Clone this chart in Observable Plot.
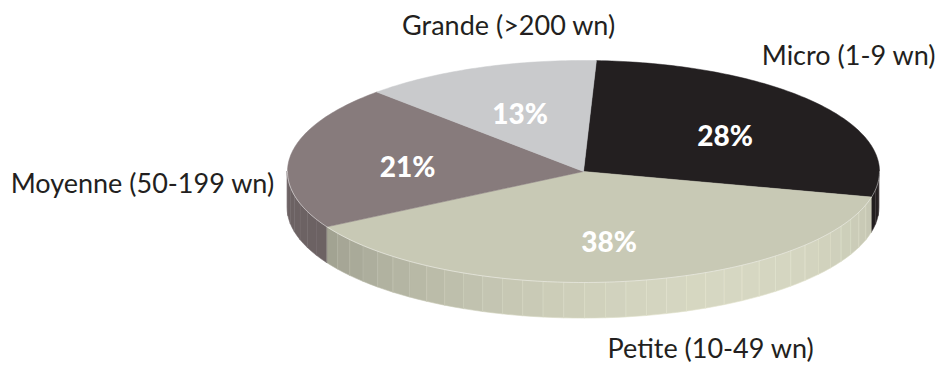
<!DOCTYPE html>
<html>
<head>
<meta charset="utf-8">
<script src="https://cdn.jsdelivr.net/npm/d3@7"></script>
<script src="https://cdn.jsdelivr.net/npm/@observablehq/plot@0.6"></script>
<style>
  html, body { margin: 0; padding: 0; background: #ffffff; }
  #chart svg { display: block; }
</style>
</head>
<body>
<div id="chart"></div>
<script>
// Répartition des entreprises par taille (nombre de travailleurs)
const categories = ["Micro (1-9 wn)", "Petite (10-49 wn)", "Moyenne (50-199 wn)", "Grande (>200 wn)"];
const shares = [28, 38, 21, 13];
const shareLabels = ["28%", "38%", "21%", "13%"];
const topColors = ["#231f20", "#c8c9b5", "#877b7c", "#c9cacc"];

// Pie geometry in unit-ellipse space: X = sin(angle), Y = cos(angle), angle clockwise from the top
const deg = Math.PI / 180;
const startAngle = 2.5 * deg;
const thickness = 0.325;           // side wall height, in units of the vertical radius
const arcs = d3.pie().sort(null).startAngle(startAngle).endAngle(startAngle + 2 * Math.PI)(shares);

// Top face of every slice: centre -> arc -> centre
const faces = [];
arcs.forEach((a, i) => {
  const n = Math.max(2, Math.ceil((a.endAngle - a.startAngle) / deg));
  faces.push({slice: i, X: 0, Y: 0});
  for (let k = 0; k <= n; ++k) {
    const t = a.startAngle + (a.endAngle - a.startAngle) * k / n;
    faces.push({slice: i, X: Math.sin(t), Y: Math.cos(t)});
  }
  faces.push({slice: i, X: 0, Y: 0});
});

// Visible side wall (front half), split into facets with a soft light from the front right
const shade = (t) => 0.8 + 0.27 * Math.max(0, Math.cos(t - 150 * deg));
const tint = (color, k) => {
  const c = d3.rgb(color);
  return d3.rgb(Math.min(255, c.r * k), Math.min(255, c.g * k), Math.min(255, c.b * k)).formatHex();
};
const walls = [];
const facet = 4 * deg;
let seg = 0;
arcs.forEach((a, i) => {
  const lo = Math.max(a.startAngle, 90 * deg);
  const hi = Math.min(a.endAngle, 270 * deg);
  if (hi <= lo) return;
  const n = Math.max(1, Math.round((hi - lo) / facet));
  for (let k = 0; k < n; ++k) {
    const t0 = lo + (hi - lo) * k / n;
    const t1 = lo + (hi - lo) * (k + 1) / n;
    const tm = (t0 + t1) / 2;
    const fill = tint(topColors[i], shade(tm));
    const edge = tint(topColors[i], shade(tm) + (i === 0 ? 0.9 : 0.06));
    for (const t of [t0, tm, t1]) {
      walls.push({seg, fill, edge, X: Math.sin(t), Ytop: Math.cos(t), Ybot: Math.cos(t) - thickness});
    }
    seg++;
  }
});

// Light rim along the front edge of the top face
const rim = d3.range(90, 270.5, 1).map((d) => ({X: Math.sin(d * deg), Y: Math.cos(d * deg)}));

// Percentage labels at the middle of each slice
const inner = arcs.map((a, i) => {
  const t = (a.startAngle + a.endAngle) / 2;
  return {label: shareLabels[i], X: 0.6 * Math.sin(t), Y: 0.6 * Math.cos(t) - 0.05};
});

// Category labels around the pie
const calloutPlacement = [
  {X: 1.189, Y: 1.04, anchor: "end"},     // Micro
  {X: 0.081, Y: -1.60, anchor: "start"},  // Petite
  {X: -1.045, Y: -0.12, anchor: "end"},   // Moyenne
  {X: -0.253, Y: 1.31, anchor: "middle"}  // Grande
];
const outer = categories.map((name, i) => ({name, ...calloutPlacement[i]}));

const font = "Lato, 'Noto Sans', sans-serif";
const outerText = (anchor) =>
  Plot.text(outer.filter((d) => d.anchor === anchor), {
    x: "X", y: "Y", text: "name", textAnchor: anchor,
    fill: "#231f20", fontSize: 27, fontFamily: font, letterSpacing: "0.6px"
  });

const chart = Plot.plot({
  width: 941,
  height: 365,
  margin: 0,
  style: {background: "#ffffff", fontFamily: font},
  x: {domain: [-1, 1], range: [287, 879], axis: null},
  y: {domain: [-1, 1], range: [282, 60], axis: null},
  color: {type: "identity"},
  marks: [
    Plot.area(walls, {x1: "X", y1: "Ytop", y2: "Ybot", z: "seg", fill: "fill", stroke: "edge", strokeWidth: 0.6}),
    ...arcs.map((a, i) =>
      Plot.line(faces.filter((d) => d.slice === i), {x: "X", y: "Y", fill: topColors[i], stroke: topColors[i], strokeWidth: 0.5, curve: "linear"})
    ),
    Plot.line(rim, {x: "X", y: "Y", stroke: "#ffffff", strokeOpacity: 0.45, strokeWidth: 1}),
    Plot.text(inner, {x: "X", y: "Y", text: "label", fill: "#ffffff", fontSize: 28, fontWeight: 900, fontFamily: font, letterSpacing: "2px"}),
    outerText("start"),
    outerText("middle"),
    outerText("end")
  ]
});

document.getElementById("chart").append(chart);
</script>
</body>
</html>
